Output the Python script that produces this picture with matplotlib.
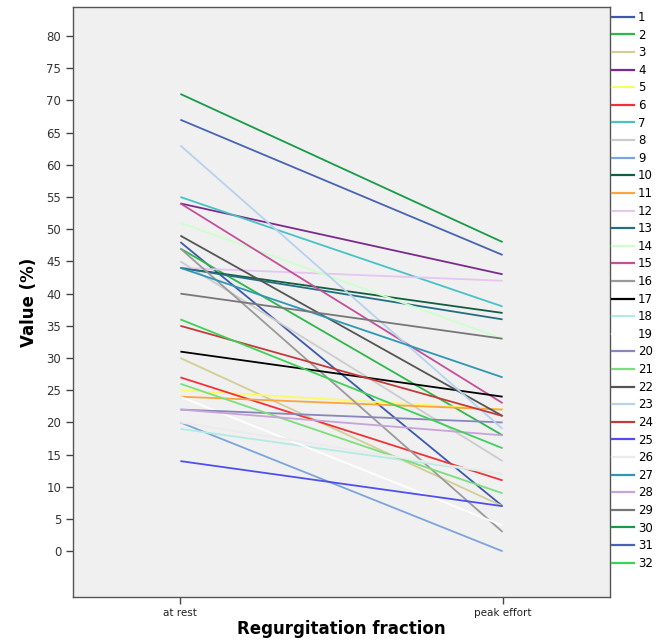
import matplotlib
matplotlib.use("Agg")
import matplotlib.pyplot as plt
from matplotlib.lines import Line2D

categories = ["at rest", "peak effort"]
series_ids = [str(i) for i in range(1, 33)]
at_rest = [48, 47, 30, 54, 25, 27, 55, 45, 20, 44, 24, 44, 44, 51, 54, 47,
           31, 19, 24, 22, 26, 49, 63, 35, 14, 20, 44, 22, 40, 71, 67, 36]
peak_effort = [7, 18, 7, 43, 22, 11, 38, 14, 0, 37, 22, 42, 36, 33, 23, 3,
               24, 12, 4, 20, 9, 21, 19, 21, 7, 12, 27, 18, 33, 48, 46, 16]
colors = ["#3e58ac", "#2eb848", "#d3ce97", "#7b2a8c", "#fcf86a", "#ef3338",
          "#48c2c5", "#cccccc", "#7ba4dd", "#115e41", "#f9a540", "#e6c5f0",
          "#226e83", "#ccffcc", "#c5509a", "#9a9a9a", "#000000", "#b3ebe3",
          "#ffffff", "#8986b9", "#7be07b", "#555555", "#b5d2ee", "#c43a3a",
          "#4f4fef", "#ebebeb", "#2f97b5", "#c7a3d9", "#777777", "#189b48",
          "#4763b3", "#3ed159"]
yticks = list(range(0, 81, 5))

fig = plt.figure(figsize=(6.67, 6.42), dpi=100)
ax = fig.add_axes([73/667, 1-597/642, (610-73)/667, (597-7)/642])
ax.set_facecolor("#f0f0f0")

xpos = [0, 1]
handles = []
for sid, a, p, c in zip(series_ids, at_rest, peak_effort, colors):
    ax.plot(xpos, [a, p], color=c, lw=1.3, solid_capstyle="butt")
    handles.append(Line2D([0], [0], color=c, lw=1.6))

ax.set_xlim(-1/3, 4/3)
ax.set_ylim(-7.1, 84.5)
ax.set_xticks(xpos)
ax.set_xticklabels(categories, fontsize=7.5, color="#222222")
ax.set_yticks(yticks)
ax.set_yticklabels([str(v) for v in yticks], fontsize=8.5, color="#333333")
ax.tick_params(axis="both", direction="out", length=5, width=1, color="#444444")
ax.tick_params(axis="x", pad=3)
for s in ax.spines.values():
    s.set_color("#555555")
    s.set_linewidth(1)

ax.set_ylabel("Value (%)", fontsize=12, fontweight="bold", labelpad=6)
ax.set_xlabel("Regurgitation fraction", fontsize=12, fontweight="bold", labelpad=1)

fig.legend(handles, series_ids, loc="upper left",
           bbox_to_anchor=(612/667, 1-11/642), frameon=False,
           fontsize=8.5, handlelength=1.9, handletextpad=0.3,
           labelspacing=0.39, borderaxespad=0, borderpad=0)

fig.savefig("out.png", dpi=100, facecolor="white")
